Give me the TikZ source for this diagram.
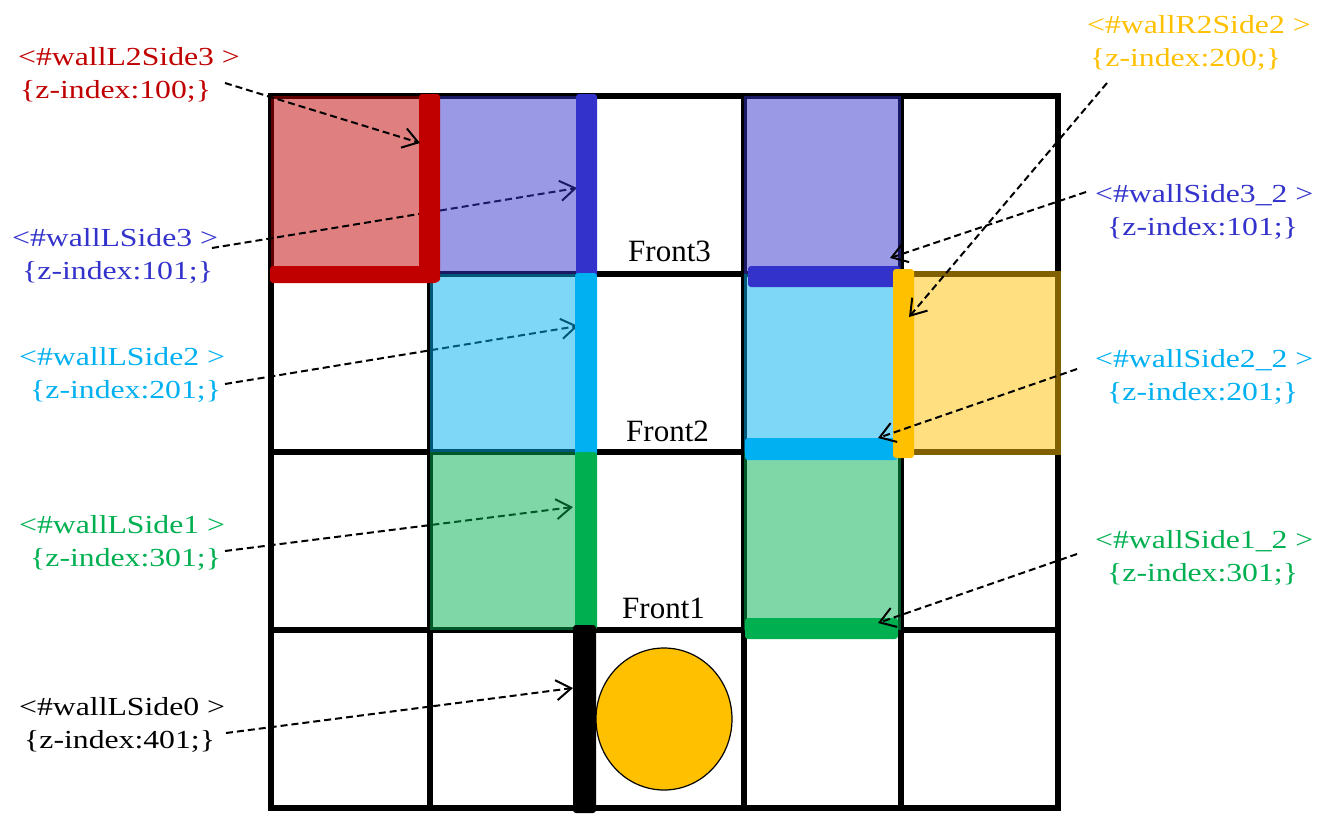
\documentclass[tikz,border=0pt]{standalone}
\usepackage{fontspec}
\setmainfont{Liberation Serif}
\newfontfamily\labfont[FakeStretch=1.22]{Liberation Serif}
\usetikzlibrary{arrows.meta}
\definecolor{cred}{HTML}{C00000}
\definecolor{cblue}{HTML}{3333CC}
\definecolor{clblue}{HTML}{00B0F0}
\definecolor{cgreen}{HTML}{00B050}
\definecolor{cyellow}{HTML}{FFC000}
\begin{document}
\begin{tikzpicture}[x=1pt,y=-1pt,
  gridline/.style={line width=5.5pt, black, line cap=rect},
  cellfill/.style={fill opacity=0.5},
  wallbar/.style={rounded corners=3pt},
  lab/.style={font=\labfont\fontsize{26}{33}\selectfont, anchor=base west, inner sep=0pt},
  front/.style={font=\fontsize{31}{36}\selectfont, anchor=base west, inner sep=0pt},
  ptr/.style={line width=2pt, dash pattern=on 7pt off 4pt, -{Straight Barb[length=15pt,width=20pt]}},
]
\useasboundingbox (0,0) rectangle (1333,817);
% grid
\foreach \x in {271,430,587,744,901,1058} \draw[gridline] (\x,96) -- (\x,808);
\foreach \y in {96,274,452,630,808} \draw[gridline] (271,\y) -- (1058,\y);
% fills under the pointers
\fill[cellfill, cred] (271,96) rectangle (430,274);
\fill[cellfill, cyellow] (898,271) rectangle (1061,455);
% pointer ends
\coordinate (s1) at (225,83);   \coordinate (e1) at (420,143);
\coordinate (s2) at (212,248);  \coordinate (e2) at (577,188);
\coordinate (s3) at (225,384);  \coordinate (e3) at (578,326);
\coordinate (s4) at (225,551);  \coordinate (e4) at (573,507);
\coordinate (s5) at (226,733);  \coordinate (e5) at (573,688);
\coordinate (s6) at (1107,83);  \coordinate (e6) at (909,317);
\coordinate (s7) at (1086,192); \coordinate (e7) at (890,258);
\coordinate (s8) at (1077,369); \coordinate (e8) at (878,438);
\coordinate (s9) at (1077,554); \coordinate (e9) at (878,623);
% pointers seen through the tinted cells
\foreach \i in {2,3,4} \draw[ptr] (s\i) -- (e\i);
% fills over the pointers
\fill[cellfill, cblue] (430,96) rectangle (587,274);
\fill[cellfill, cblue] (744,96) rectangle (901,274);
\fill[cellfill, clblue] (430,274) rectangle (587,452);
\fill[cellfill, clblue] (744,274) rectangle (901,452);
\fill[cellfill, cgreen] (430,452) rectangle (587,630);
\fill[cellfill, cgreen] (744,452) rectangle (901,630);
% walls
\fill[wallbar, cred] (419,94) rectangle (440,282);
\fill[wallbar, cred] (270,266) rectangle (438,283);
\fill[wallbar, cblue] (576,94) rectangle (597,277);
\fill[wallbar, clblue] (575,273) rectangle (597,456);
\fill[wallbar, cgreen] (575,452) rectangle (597,630);
\fill[wallbar, black] (573,625) rectangle (596,813);
\fill[wallbar, cblue] (748,266) rectangle (900,287);
\fill[wallbar, clblue] (745,438) rectangle (898,460);
\fill[wallbar, cgreen] (745,618) rectangle (898,639);
\fill[wallbar, cyellow] (893,269) rectangle (914,458);
% pointers on top
\foreach \i in {1,5,6,7,8,9} \draw[ptr] (s\i) -- (e\i);
% ball
\draw[fill=cyellow, line width=1.2pt] (664,719) ellipse [x radius=68, y radius=71];
% front labels
\node[front] (f3) at (628,261) {Front3};
\node[front] (f2) at (626,441) {Front2};
\node[front] (f1) at (622,618) {Front1};
% wall labels
\node[lab, text=cred] (l1a) at (18,65) {<\#wallL2Side3 >};
\node[lab, text=cred] (l1b) at (20,98) {\{z-index:100;\}};
\node[lab, text=cblue] (l2a) at (12,246) {<\#wallLSide3 >};
\node[lab, text=cblue] (l2b) at (22,279) {\{z-index:101;\}};
\node[lab, text=clblue] (l3a) at (19,365) {<\#wallLSide2 >};
\node[lab, text=clblue] (l3b) at (30,398) {\{z-index:201;\}};
\node[lab, text=cgreen] (l4a) at (19,533) {<\#wallLSide1 >};
\node[lab, text=cgreen] (l4b) at (30,566) {\{z-index:301;\}};
\node[lab, text=black] (l5a) at (19,715) {<\#wallLSide0 >};
\node[lab, text=black] (l5b) at (24,748) {\{z-index:401;\}};
\node[lab, text=cyellow] (l6a) at (1087,33) {<\#wallR2Side2 >};
\node[lab, text=cyellow] (l6b) at (1090,66) {\{z-index:200;\}};
\node[lab, text=cblue] (l7a) at (1095,202) {<\#wallSide3\_2 >};
\node[lab, text=cblue] (l7b) at (1107,235) {\{z-index:101;\}};
\node[lab, text=clblue] (l8a) at (1095,367) {<\#wallSide2\_2 >};
\node[lab, text=clblue] (l8b) at (1107,400) {\{z-index:201;\}};
\node[lab, text=cgreen] (l9a) at (1095,548) {<\#wallSide1\_2 >};
\node[lab, text=cgreen] (l9b) at (1107,581) {\{z-index:301;\}};
\end{tikzpicture}
\end{document}
